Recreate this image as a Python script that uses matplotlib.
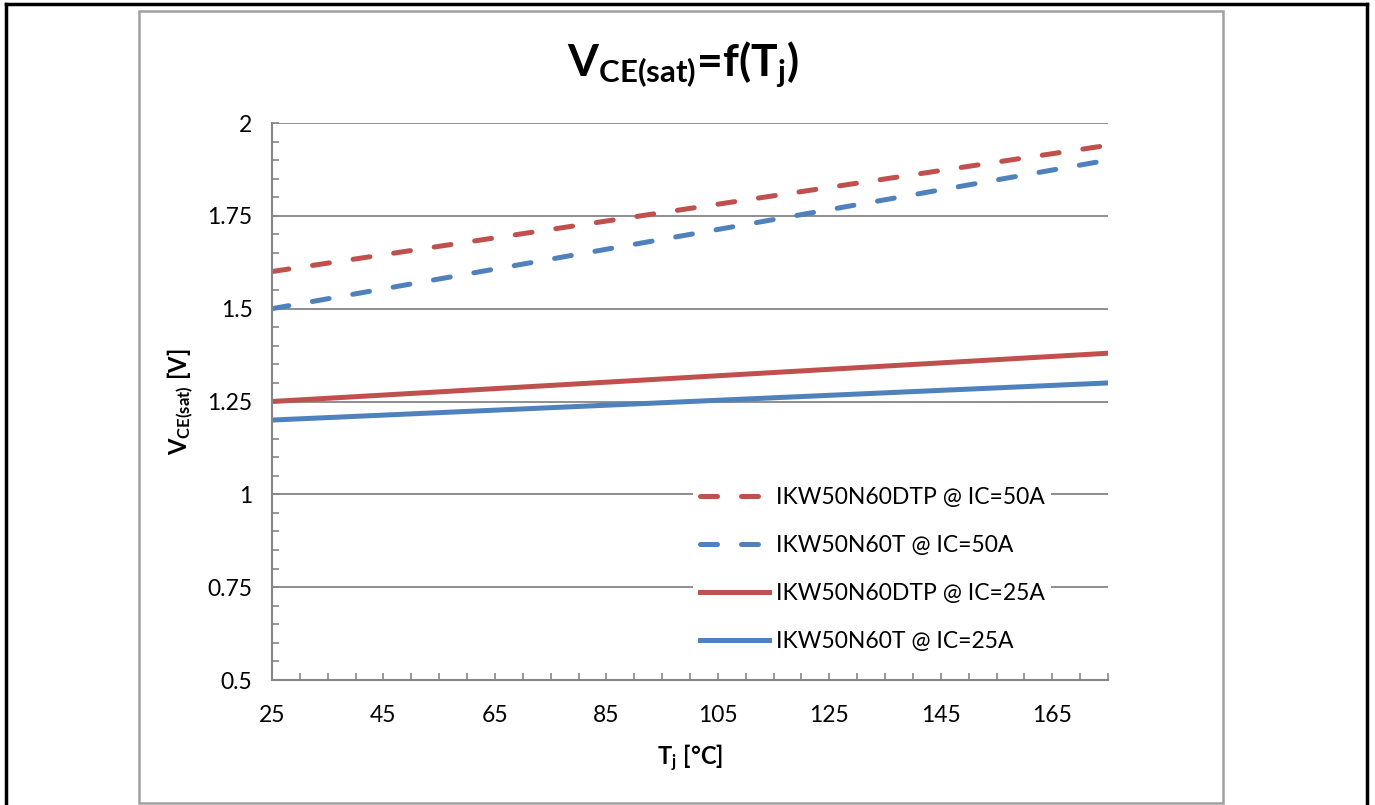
import numpy as np
import matplotlib
matplotlib.use("Agg")
import matplotlib.pyplot as plt
from matplotlib.patches import Rectangle
from matplotlib.lines import Line2D
from matplotlib.ticker import MultipleLocator, FixedLocator

plt.rcParams['font.family'] = ['Lato', 'DejaVu Sans']
# every mathtext string in this chart is bold
plt.rcParams['mathtext.fontset'] = 'custom'
plt.rcParams['mathtext.rm'] = 'Lato:bold'
plt.rcParams['mathtext.it'] = 'Lato:bold'
plt.rcParams['mathtext.bf'] = 'Lato:bold'
plt.rcParams['mathtext.default'] = 'rm'

# data
tj = [25, 175]
dtp_50 = [1.60, 1.94]
t_50 = [1.50, 1.90]
dtp_25 = [1.25, 1.38]
t_25 = [1.20, 1.30]
labels = ['IKW50N60DTP @ IC=50A', 'IKW50N60T @ IC=50A',
          'IKW50N60DTP @ IC=25A', 'IKW50N60T @ IC=25A']
xticks = [25, 45, 65, 85, 105, 125, 145, 165]
yticks = [0.5, 0.75, 1, 1.25, 1.5, 1.75, 2]
ytick_labels = ['0.5', '0.75', '1', '1.25', '1.5', '1.75', '2']

red = '#C0504D'
blue = '#4F81BD'
grey = '#868686'

fig = plt.figure(figsize=(13.75, 8.05), dpi=100)
W, H = 1375, 805

# frames
fig.add_artist(Rectangle((139 / W, 1 - 803 / H), (1223 - 139) / W, (803 - 11) / H,
                         transform=fig.transFigure, fill=False,
                         edgecolor='#A0A0A0', lw=1.8))
for xs, ys in [([6, 6], [805, 4]), ([6, 1367], [4, 4]), ([1367, 1367], [4, 805])]:
    fig.add_artist(Line2D([x / W for x in xs], [1 - y / H for y in ys],
                          transform=fig.transFigure, color='black', lw=2.5))

ax = fig.add_axes([272 / W, 1 - 680 / H, (1108 - 272) / W, (680 - 123) / H])

dash = (3.4, 4.8)
lw = 3.6
ax.plot(tj, dtp_50, color=red, lw=lw, dashes=dash, dash_capstyle='round', label=labels[0])
ax.plot(tj, t_50, color=blue, lw=lw, dashes=dash, dash_capstyle='round', label=labels[1])
ax.plot(tj, dtp_25, color=red, lw=lw, label=labels[2])
ax.plot(tj, t_25, color=blue, lw=lw, label=labels[3])

ax.set_xlim(25, 175)
ax.set_ylim(0.5, 2)
ax.xaxis.set_major_locator(FixedLocator(xticks))
ax.xaxis.set_minor_locator(MultipleLocator(5))
ax.yaxis.set_major_locator(FixedLocator(yticks))
ax.yaxis.set_minor_locator(MultipleLocator(0.05))
ax.set_yticklabels(ytick_labels)
ax.grid(axis='y', which='major', color=grey, lw=1.3)
ax.set_axisbelow(True)

for s in ['top', 'right']:
    ax.spines[s].set_visible(False)
for s in ['left', 'bottom']:
    ax.spines[s].set_color(grey)
    ax.spines[s].set_linewidth(1.5)

ax.tick_params(which='both', direction='in', length=5, width=1.2, color=grey,
               labelsize=16.5)
ax.tick_params(axis='y', pad=14)
ax.tick_params(axis='x', pad=18)

ax.set_xlabel(r'$T_j\ [°C]$', fontsize=17, labelpad=12)
ax.set_ylabel(r'$V_{CE(sat)}\ [V]$', fontsize=17, labelpad=8)

fig.text(0.497, 0.919, r'$V_{CE(sat)}$=f(T$_j$)', fontsize=32, fontweight='bold',
         ha='center', va='center')

leg = ax.legend(loc='upper left', bbox_to_anchor=(0.49, 0.38), frameon=True,
                fontsize=16.5, handlelength=3.0, labelspacing=1.18,
                handletextpad=0.3, borderpad=0.3)
leg.get_frame().set_facecolor('white')
leg.get_frame().set_edgecolor('none')
leg.get_frame().set_alpha(1)
leg.get_frame().set_boxstyle('square', pad=0)

fig.savefig('out.png', dpi=100)
